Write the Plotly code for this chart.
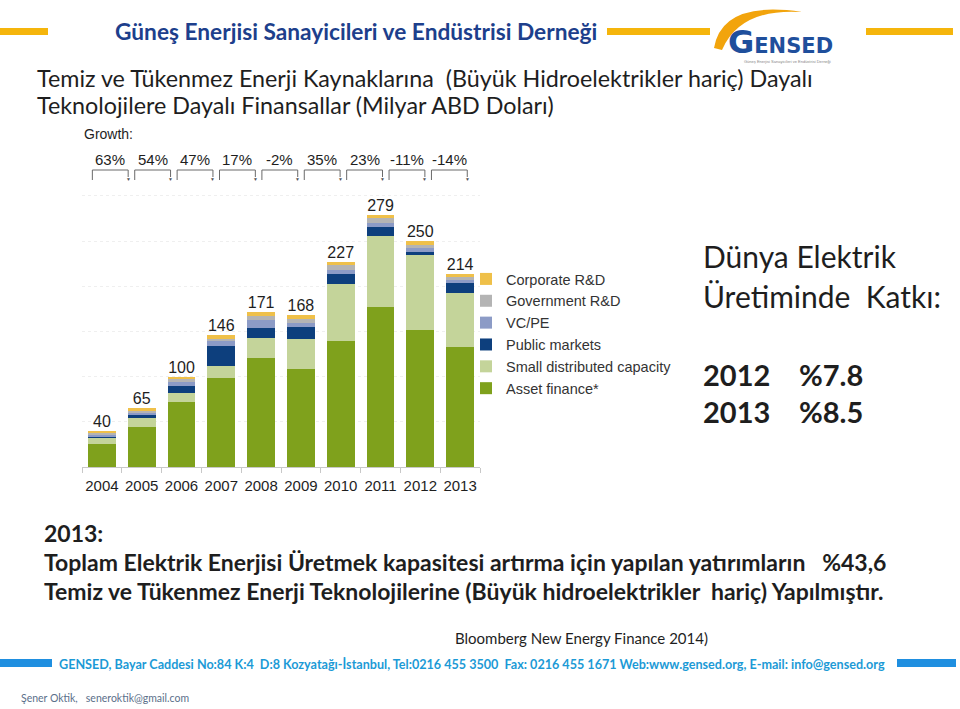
import plotly.graph_objects as go

# ---------------- data ----------------
years = ["2004", "2005", "2006", "2007", "2008", "2009", "2010", "2011", "2012", "2013"]
asset_finance = [25, 44, 72, 98, 121, 108, 139, 177, 152, 133]
small_distributed = [8, 10, 10, 14, 22, 34, 63, 78, 82, 59]
public_markets = [1, 4, 8, 22, 11, 13, 11, 10, 4, 11]
vc_pe = [1, 2, 4, 5, 9, 4, 5, 5, 4, 4]
government_rd = [3, 2, 3, 3, 4, 5, 5, 5, 4, 3]
corporate_rd = [2, 3, 3, 4, 4, 4, 4, 4, 4, 4]
total_labels = [40, 65, 100, 146, 171, 168, 227, 279, 250, 214]
growth = ["63%", "54%", "47%", "17%", "-2%", "35%", "23%", "-11%", "-14%"]

series = [
    ("Asset finance*", asset_finance, "#7fa11c"),
    ("Small distributed capacity", small_distributed, "#c4d49a"),
    ("Public markets", public_markets, "#0d3f7d"),
    ("VC/PE", vc_pe, "#8c9bc6"),
    ("Government R&D", government_rd, "#b4b4b4"),
    ("Corporate R&D", corporate_rd, "#efc049"),
]

W, H = 960, 709


def px(x):
    return x / W


def py(y):
    return 1 - y / H


fig = go.Figure()
for name, vals, col in series:
    fig.add_trace(go.Bar(x=years, y=vals, name=name, marker=dict(color=col, line=dict(width=0))))

fig.add_trace(go.Scatter(
    x=years, y=total_labels, mode="text", text=[str(v) for v in total_labels],
    textposition="top center", textfont=dict(family="Arial, Liberation Sans", size=16, color="#1e1e1e"),
    showlegend=False, hoverinfo="skip", cliponaxis=False))

# plot area geometry (y: 0 at pixel 467, 0.904 px per unit)
y0_px = 467
scale = 0.904
ymax = 345
top_px = y0_px - ymax * scale


def ydata(pix):
    return (y0_px - pix) / scale


shapes = []
annotations = []

# growth brackets
for i, g in enumerate(growth):
    left = -0.24 + 1.065 * i
    right = left + 0.9
    ytop = ydata(170)
    ybot = ydata(180)
    line = dict(color="#6a6a6a", width=1)
    shapes.append(dict(type="line", xref="x", yref="y", x0=left, x1=right, y0=ytop, y1=ytop, line=line))
    shapes.append(dict(type="line", xref="x", yref="y", x0=left, x1=left, y0=ytop, y1=ybot, line=line))
    shapes.append(dict(type="line", xref="x", yref="y", x0=right, x1=right, y0=ytop, y1=ydata(177), line=line))
    annotations.append(dict(xref="x", yref="y", x=right, y=ydata(179), text="▼", showarrow=False,
                            font=dict(size=5, color="#555555"), xanchor="center", yanchor="middle"))
    annotations.append(dict(xref="x", yref="y", x=(left + right) / 2, y=ydata(159), text=g, showarrow=False,
                            font=dict(family="Arial, Liberation Sans", size=15, color="#1e1e1e"),
                            xanchor="center", yanchor="middle"))

annotations.append(dict(xref="paper", yref="paper", x=px(82), y=py(134), text="Growth:", showarrow=False,
                        font=dict(family="Arial, Liberation Sans", size=14, color="#1e1e1e"),
                        xanchor="left", yanchor="middle"))

# header bars
gold = "#f5b50c"
for x0, x1 in [(0, 48), (607, 710), (866, 953)]:
    shapes.append(dict(type="rect", xref="paper", yref="paper", x0=px(x0), x1=px(x1), y0=py(35), y1=py(28),
                       fillcolor=gold, line=dict(width=0)))

# footer bars
blue = "#1f8fe0"
for x0, x1 in [(0, 52), (897, 956)]:
    shapes.append(dict(type="rect", xref="paper", yref="paper", x0=px(x0), x1=px(x1), y0=py(667), y1=py(659),
                       fillcolor=blue, line=dict(width=0)))

# logo swoosh
pts = [(714, 48), (722, 0), (802, 12), (740, 8), (722, 50)]
path = "M {},{} Q {},{} {},{} Q {},{} {},{} Z".format(
    px(pts[0][0]), py(pts[0][1]), px(pts[1][0]), py(pts[1][1]), px(pts[2][0]), py(pts[2][1]),
    px(pts[3][0]), py(pts[3][1]), px(pts[4][0]), py(pts[4][1]))
shapes.append(dict(type="path", xref="paper", yref="paper", path=path, fillcolor="#f2a40c",
                   line=dict(width=0)))
annotations.append(dict(xref="paper", yref="paper", x=px(726), y=py(42), showarrow=False,
                        text="<span style='font-size:32px'>G</span>ENSED",
                        font=dict(family="DejaVu Sans", size=21, color="#1f4f9c", weight="bold"),
                        xanchor="left", yanchor="middle"))
annotations.append(dict(xref="paper", yref="paper", x=px(742), y=py(62), showarrow=False,
                        text="Güneş Enerjisi Sanayicileri ve Endüstrisi Derneği",
                        font=dict(family="Arial", size=4, color="#888888"),
                        xanchor="left", yanchor="middle"))

# header text
annotations.append(dict(xref="paper", yref="paper", x=px(113), y=py(31), showarrow=False,
                        text="Güneş Enerjisi Sanayicileri ve Endüstrisi Derneği",
                        font=dict(family="Lato", size=22.7, color="#1d3f8c", weight="bold"),
                        xanchor="left", yanchor="middle"))

# title
title_font = dict(family="Lato", size=23.3, color="#1e1e1e")
annotations.append(dict(xref="paper", yref="paper", x=px(35), y=py(78), showarrow=False,
                        text="Temiz ve Tükenmez Enerji Kaynaklarına&nbsp; (Büyük Hidroelektrikler hariç) Dayalı",
                        font=title_font, xanchor="left", yanchor="middle"))
annotations.append(dict(xref="paper", yref="paper", x=px(35), y=py(105), showarrow=False,
                        text="Teknolojilere Dayalı Finansallar (Milyar ABD Doları)",
                        font=title_font, xanchor="left", yanchor="middle"))

# right side text
rfont = dict(family="Lato", size=30, color="#1e1e1e")
rbold = dict(family="Lato", size=29, color="#1e1e1e", weight="bold")
annotations.append(dict(xref="paper", yref="paper", x=px(701), y=py(256), showarrow=False,
                        text="Dünya Elektrik", font=rfont, xanchor="left", yanchor="middle"))
annotations.append(dict(xref="paper", yref="paper", x=px(701), y=py(296), showarrow=False,
                        text="Üretiminde&nbsp;&nbsp;Katkı:", font=rfont, xanchor="left", yanchor="middle"))
for yy, a, b in [(375, "2012", "%7.8"), (411, "2013", "%8.5")]:
    annotations.append(dict(xref="paper", yref="paper", x=px(701), y=py(yy), showarrow=False,
                            text=a, font=rbold, xanchor="left", yanchor="middle"))
    annotations.append(dict(xref="paper", yref="paper", x=px(797), y=py(yy), showarrow=False,
                            text=b, font=rbold, xanchor="left", yanchor="middle"))

# body text
bfont = dict(family="Lato", size=23, color="#1e1e1e", weight="bold")
for yy, t in [(533, "2013:"),
              (562, "Toplam Elektrik Enerjisi Üretmek kapasitesi artırma için yapılan yatırımların&nbsp;&nbsp; %43,6"),
              (591, "Temiz ve Tükenmez Enerji Teknolojilerine (Büyük hidroelektrikler&nbsp; hariç) Yapılmıştır.")]:
    annotations.append(dict(xref="paper", yref="paper", x=px(42), y=py(yy), showarrow=False,
                            text=t, font=bfont, xanchor="left", yanchor="middle"))

annotations.append(dict(xref="paper", yref="paper", x=px(453), y=py(638), showarrow=False,
                        text="Bloomberg New Energy Finance 2014)",
                        font=dict(family="Lato", size=15, color="#1e1e1e"), xanchor="left", yanchor="middle"))
annotations.append(dict(xref="paper", yref="paper", x=px(57), y=py(664), showarrow=False,
                        text="GENSED, Bayar Caddesi No:84 K:4&nbsp; D:8 Kozyatağı-İstanbul, Tel:0216 455 3500&nbsp; Fax: 0216 455 1671 Web:www.gensed.org, E-mail: info@gensed.org",
                        font=dict(family="Lato", size=12.6, color="#1c9ad6", weight="bold"),
                        xanchor="left", yanchor="middle"))
annotations.append(dict(xref="paper", yref="paper", x=px(19), y=py(698), showarrow=False,
                        text="Şener Oktik,&nbsp;&nbsp; seneroktik@gmail.com",
                        font=dict(family="Lato", size=10.5, color="#5b6f8a"), xanchor="left", yanchor="middle"))

fig.update_layout(
    width=W, height=H,
    margin=dict(l=0, r=0, t=0, b=0),
    paper_bgcolor="white", plot_bgcolor="white",
    barmode="stack", bargap=0.3,
    shapes=shapes, annotations=annotations,
    showlegend=True,
    legend=dict(x=px(466), y=py(263), xanchor="left", yanchor="top", traceorder="reversed",
                font=dict(family="Arial, Liberation Sans", size=14.5, color="#333333"),
                bgcolor="rgba(0,0,0,0)", itemclick=False, tracegroupgap=0),
    xaxis=dict(domain=[px(82), px(480)], showline=True, linecolor="#c8c8c8", ticks="outside",
               tickson="boundaries", ticklen=5, tickcolor="#c8c8c8", tickangle=0,
               ticklabelstandoff=5,
               tickfont=dict(family="Arial, Liberation Sans", size=15, color="#1e1e1e"),
               showgrid=False, fixedrange=True),
    yaxis=dict(domain=[py(y0_px), py(top_px)], range=[0, ymax], showticklabels=False, ticks="",
               showgrid=True, dtick=50, gridcolor="#efefef", griddash="dot", zeroline=False,
               showline=False, fixedrange=True),
)

fig.write_html("out.html", config={"displayModeBar": False},
               post_script="document.body.style.margin='0';document.body.style.overflow='hidden';")
